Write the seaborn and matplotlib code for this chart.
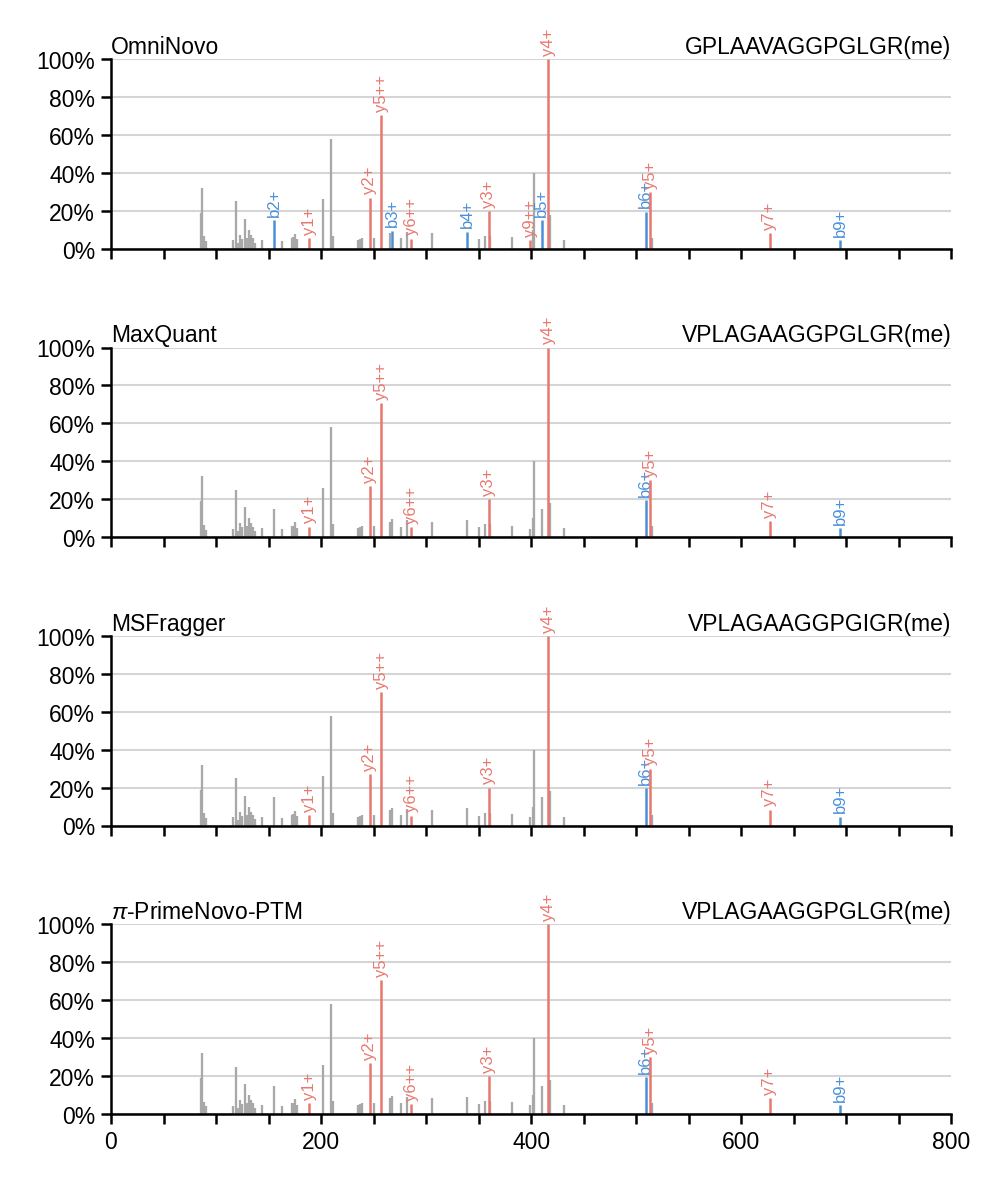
import numpy as np
import pandas as pd
import seaborn as sns
import matplotlib.pyplot as plt
from matplotlib.ticker import PercentFormatter, MultipleLocator

sns.set_theme(style="ticks")
plt.rcParams["font.family"] = ["Liberation Sans", "DejaVu Sans"]
plt.rcParams["mathtext.fontset"] = "custom"
plt.rcParams["mathtext.rm"] = "Liberation Sans"
plt.rcParams["mathtext.it"] = "Liberation Sans:italic"
plt.rcParams["text.color"] = "black"
plt.rcParams["axes.labelcolor"] = "black"
plt.rcParams["xtick.color"] = "black"
plt.rcParams["ytick.color"] = "black"

# unmatched peaks (m/z, relative intensity %)
gray_mz = [85.5, 87.0, 89.0, 90.5, 116.2, 119.4, 121.0, 122.9, 124.4, 127.3,
           129.2, 131.1, 133.0, 135.0, 136.9, 143.5, 162.9, 172.0, 173.7, 175.6,
           177.1, 201.9, 209.5, 211.4, 235.5, 237.5, 239.4, 250.5, 265.7, 276.5,
           282.2, 306.0, 350.8, 356.5, 361.0, 382.2, 401.4, 403.2, 418.4, 431.4,
           514.9]
gray_int = [19, 32, 6.5, 4, 4.4, 25, 3, 7.4, 5.3, 15.8,
            5.8, 10, 7.4, 5.6, 3.2, 4.7, 4.2, 5.8, 6, 7.9,
            4.9, 26, 58, 6.7, 4.7, 5.3, 5.8, 5.8, 8.2, 5.6,
            8.8, 8.2, 5.3, 6.7, 6.7, 6.1, 10, 40, 18, 4.7,
            5.8]

# fragment ion peaks
ion_names = ["b2+", "y1+", "y2+", "y5++", "b3+", "y6++", "b4+", "y3+",
             "y9++", "b5+", "y4+", "b6+", "y5+", "y7+", "b9+"]
ion_mz = [155.2, 188.9, 246.2, 257.3, 268.0, 286.0, 339.4, 359.7,
          399.0, 410.2, 416.5, 509.2, 513.3, 627.3, 694.3]
ion_int = [15, 5.6, 27, 70.5, 9.5, 5.3, 9, 20,
           4.5, 15, 100, 19.6, 30, 8.4, 4.7]

methods = ["OmniNovo", "MaxQuant", "MSFragger", r"$\pi$-PrimeNovo-PTM"]
peptides = ["GPLAAVAGGPGLGR(me)", "VPLAGAAGGPGLGR(me)",
            "VPLAGAAGGPGIGR(me)", "VPLAGAAGGPGLGR(me)"]
matched = [
    ["b2+", "y1+", "y2+", "y5++", "b3+", "y6++", "b4+", "y3+", "y9++", "b5+",
     "y4+", "b6+", "y5+", "y7+", "b9+"],
    ["y1+", "y2+", "y5++", "y6++", "y3+", "y4+", "b6+", "y5+", "y7+", "b9+"],
    ["y1+", "y2+", "y5++", "y6++", "y3+", "y4+", "b6+", "y5+", "y7+", "b9+"],
    ["y1+", "y2+", "y5++", "y6++", "y3+", "y4+", "b6+", "y5+", "y7+", "b9+"],
]

RED = "#E8786F"
BLUE = "#4A90D9"
GRAY = "#A8A8A8"

df_gray = pd.DataFrame({"mz": gray_mz, "inten": np.array(gray_int) / 100})
df_ion = pd.DataFrame({"ion": ion_names, "mz": ion_mz, "inten": np.array(ion_int) / 100})

fig, axes = plt.subplots(4, 1, figsize=(3.327, 3.953), dpi=300, sharex=True)
fig.subplots_adjust(left=0.1112, right=0.953, top=0.9494, bottom=0.0599, hspace=0.521)

for k, ax in enumerate(axes):
    df = df_ion.copy()
    df["hit"] = df["ion"].isin(matched[k])
    unmatched = pd.concat([df_gray, df.loc[~df["hit"], ["mz", "inten"]]])
    hits = df[df["hit"]]

    ax.grid(axis="y", color="#D5D5D5", linewidth=0.5, zorder=0)
    ax.vlines(unmatched["mz"], 0, unmatched["inten"], color=GRAY, linewidth=0.55, zorder=2)
    for _, r in hits.iterrows():
        c = RED if r["ion"].startswith("y") else BLUE
        ax.vlines(r["mz"], 0, r["inten"], color=c, linewidth=0.6, zorder=3)
        ax.annotate(r["ion"], (r["mz"], r["inten"]), xytext=(0, 1),
                    textcoords="offset points", rotation=90, ha="center",
                    va="bottom", color=c, fontsize=4, annotation_clip=False)

    ax.set_xlim(0, 800)
    ax.set_ylim(0, 1.0)
    ax.yaxis.set_major_locator(MultipleLocator(0.2))
    ax.yaxis.set_major_formatter(PercentFormatter(1.0, decimals=0))
    ax.xaxis.set_major_locator(MultipleLocator(200))
    ax.xaxis.set_minor_locator(MultipleLocator(50))
    ax.tick_params(which="both", direction="out", length=2.3, width=0.6,
                   labelsize=5.5, pad=1.5, color="black", labelcolor="black")
    for s in ["left", "bottom"]:
        ax.spines[s].set_linewidth(0.6)
        ax.spines[s].set_color("black")
        ax.spines[s].set_zorder(4)
    sns.despine(ax=ax)
    ax.set_title(methods[k], loc="left", fontsize=5.5, pad=1.5, color="black")
    ax.set_title(peptides[k], loc="right", fontsize=5.5, pad=1.5, color="black")

fig.savefig("out.png", dpi=300)
